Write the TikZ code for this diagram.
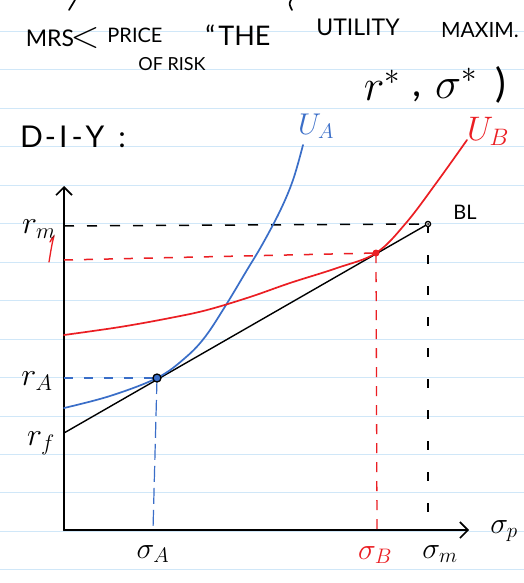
\RequirePackage{fix-cm}
\documentclass[tikz,border=0pt]{standalone}
\usepackage{fontspec}
\setmainfont{Lato}
\usetikzlibrary{arrows.meta}
\definecolor{paperline}{RGB}{208,231,248}
\definecolor{penblue}{RGB}{58,110,200}
\definecolor{penred}{RGB}{235,30,35}
\begin{document}
\begin{tikzpicture}[x=1pt,y=-1pt,
  ink/.style={line width=1.7pt,line cap=round,line join=round},
  axis/.style={ink,line width=2.2pt,-{Straight Barb[length=8pt,width=16pt,line width=1.6pt]}},
  dashk/.style={line width=1.5pt,dash pattern=on 9pt off 11pt},
  lbl/.style={inner sep=0pt},
  mlbl/.style={inner sep=0pt,font=\fontsize{32}{34}\selectfont}]
\useasboundingbox (0,0) rectangle (524,583);
\fill[white] (0,0) rectangle (524,583);
% lined paper
\foreach \k in {0,...,14}{
  \draw[paperline,line width=1pt] (0,31.5+38.45*\k) -- (524,31.5+38.45*\k);
}
% cut-off strokes at top
\draw[ink] (69,10) -- (75,0);
\draw[ink] (291,0) .. controls (289,4) .. (292,10);
% header text
\node[lbl,font=\fontsize{23}{25}\selectfont] (mrs) at (50,38) {MRS};
\node[lbl,font=\fontsize{38}{40}\selectfont] (lt) at (85,38) {$<$};
\node[lbl,font=\fontsize{20}{22}\selectfont] (price) at (135,35) {PRICE};
\node[lbl,font=\fontsize{18}{20}\selectfont] (risk) at (172,64) {OF RISK};
\node[lbl,font=\fontsize{27}{29}\selectfont] (the) at (238,35) {``\hspace{3pt}THE};
\node[lbl,font=\fontsize{23}{25}\selectfont] (util) at (358,27) {UTILITY};
\node[lbl,font=\fontsize{21}{23}\selectfont] (maxim) at (480,30) {MAXIM.};
\node[lbl,font=\fontsize{44}{46}\selectfont] (optr) at (382,85) {$r^{*}$};
\node[lbl,font=\fontsize{40}{42}\selectfont] (comma) at (417,97) {,};
\node[lbl,font=\fontsize{44}{46}\selectfont] (opts) at (456,83) {$\sigma^{*}$};
\node[lbl,font=\fontsize{40}{42}\selectfont] (paren) at (501,85) {)};
\node[lbl,font=\fontsize{30}{32}\selectfont] (diy) at (73,137) {D\hspace{2pt}-\hspace{3pt}I\hspace{4pt}-\hspace{3pt}Y\hspace{14pt}:};
% axes
\coordinate (O) at (64,530);
\coordinate (ytop) at (64,186);
\coordinate (xend) at (469,530);
\draw[axis] (O) -- (ytop);
\draw[axis] (O) -- (xend);
% key points
\coordinate (rf) at (64,433);
\coordinate (A) at (157,378);
\coordinate (B) at (376,253);
\coordinate (BL) at (428,224);
\coordinate (rmA) at (64,226);
\coordinate (rBA) at (64,260);
\coordinate (rAA) at (64,378);
\coordinate (sA) at (153,530);
\coordinate (sB) at (377,530);
\coordinate (sM) at (428,530);
% dashed guides
\draw[dashk,black,dash pattern=on 10pt off 13pt] (rmA) -- (BL);
\draw[dashk,penred] (rBA) -- (B);
\draw[dashk,penblue] (rAA) -- (A);
\draw[penblue,line width=1.2pt,dash pattern=on 16pt off 6pt] (A) -- (sA);
\draw[penred,line width=1.3pt,dash pattern=on 10pt off 9pt] (B) -- (sB);
\draw[black,line width=1.4pt,dash pattern=on 9pt off 22pt] (BL) -- (sM);
% budget line
\draw[line width=1.4pt,line cap=round] (rf) -- (BL);
% indifference curves
\draw[ink,penblue] plot[smooth,tension=0.6] coordinates {(64,408) (110,396) (157,378) (185,358) (205,337) (226,305) (247,270) (262,245) (280,211) (293,180) (303,145)};
\draw[ink,penred] plot[smooth,tension=0.6] coordinates {(64,335) (120,327) (170,318) (207,310) (250,297) (290,283) (337,268) (376,253) (406,223) (437,182) (467,140)};
% points
\fill[penred] (B) circle (3.5pt);
\filldraw[fill=penblue,draw=black,line width=1.3pt] (A) circle (4pt);
\filldraw[fill=white,draw=black,line width=1.3pt] (BL) circle (2.6pt);
\fill[black] (BL) circle (1pt);
% red stroke under r_m
\draw[ink,penred,line width=1.3pt] (49,262) .. controls (51,250) and (52,243) .. (54,236) .. controls (52,238) and (51,240) .. (50,242);
% labels
\node[lbl,penblue,font=\fontsize{30}{32}\selectfont] (ua) at (316,126) {$U_{A}$};
\node[lbl,penred,font=\fontsize{34}{36}\selectfont] (ub) at (488,131) {$U_{B}$};
\node[lbl,font=\fontsize{20}{22}\selectfont] (bl) at (465,212) {BL};
\node[mlbl] (rm) at (39,229) {$r_{m}$};
\node[mlbl] (ra) at (37,381) {$r_{A}$};
\node[mlbl] (rfl) at (41,443) {$r_{f}$};
\node[mlbl,font=\fontsize{30}{32}\selectfont] (sal) at (153,554) {$\sigma_{A}$};
\node[mlbl,penred,font=\fontsize{30}{32}\selectfont] (sbl) at (375,555) {$\sigma_{B}$};
\node[mlbl,font=\fontsize{30}{32}\selectfont] (sml) at (440,554) {$\sigma_{m}$};
\node[mlbl,font=\fontsize{30}{32}\selectfont] (spl) at (504,531) {$\sigma_{p}$};
\end{tikzpicture}
\end{document}
